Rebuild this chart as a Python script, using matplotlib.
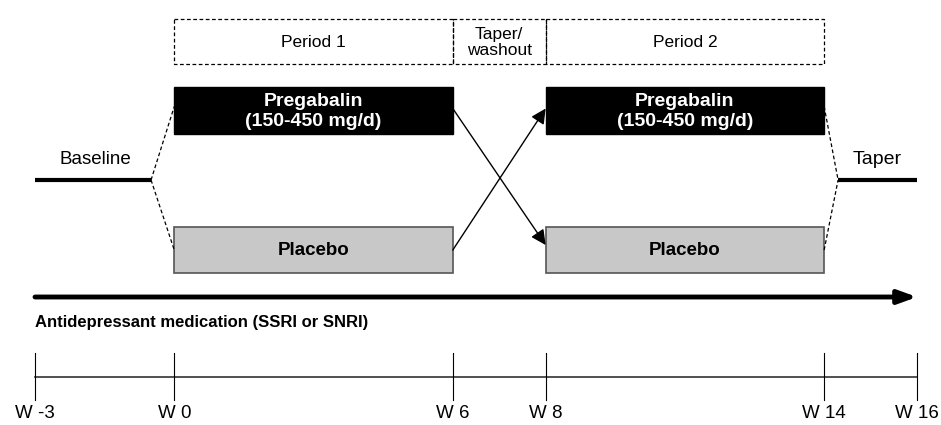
import matplotlib
matplotlib.use("Agg")
import matplotlib.pyplot as plt
from matplotlib.patches import Rectangle, FancyArrowPatch

plt.rcParams['font.family'] = ['Liberation Sans', 'DejaVu Sans']

# timeline (weeks)
week_ticks = [-3, 0, 6, 8, 14, 16]
week_labels = ['W -3', 'W 0', 'W 6', 'W 8', 'W 14', 'W 16']

# study periods
period_names = ['Period 1', 'Taper/\nwashout', 'Period 2']
period_start = [0, 6, 8]
period_end = [6, 8, 14]

# treatment blocks (start, end)
treat_blocks = [(0, 6), (8, 14)]
drug_label = 'Pregabalin\n(150-450 mg/d)'
placebo_label = 'Placebo'

baseline_end = -0.5
taper_start = 14.3

fig = plt.figure(figsize=(9.41, 4.25), dpi=100)
ax = fig.add_axes([0, 0, 1, 1])
ppw = (917 - 35) / 19.0
ax.set_xlim(-3 - 35 / ppw, 16 + 24 / ppw)
ax.set_ylim(425, 0)
ax.axis('off')

# y positions in pixel rows
y_per = (19, 64)
y_drug = (87, 134)
y_plac = (227, 273)
y_base = 180
y_arrow = 297
y_line = 377

# dashed period boxes
for name, s, e in zip(period_names, period_start, period_end):
    ax.add_patch(Rectangle((s, y_per[0]), e - s, y_per[1] - y_per[0], fill=False,
                           ls=(0, (3, 2)), lw=0.9, ec='black'))
    ax.text((s + e) / 2, (y_per[0] + y_per[1]) / 2 + 1, name, ha='center', va='center',
            fontsize=12.5, linespacing=1.1)

# treatment boxes
for s, e in treat_blocks:
    ax.add_patch(Rectangle((s, y_drug[0]), e - s, y_drug[1] - y_drug[0], fc='black', ec='black'))
    ax.text((s + e) / 2, (y_drug[0] + y_drug[1]) / 2 + 1, drug_label, ha='center', va='center',
            color='white', fontsize=14, fontweight='bold', linespacing=1.2)
    ax.add_patch(Rectangle((s, y_plac[0]), e - s, y_plac[1] - y_plac[0], fc='#c8c8c8',
                           ec='#555555', lw=1.2))
    ax.text((s + e) / 2, (y_plac[0] + y_plac[1]) / 2, placebo_label, ha='center', va='center',
            fontsize=13.5, fontweight='bold')

# baseline and taper
ax.plot([-3, baseline_end], [y_base, y_base], color='black', lw=3, solid_capstyle='butt')
ax.text((-3 + baseline_end) / 2 + 0.05, 160, 'Baseline', ha='center', va='center', fontsize=13.5)
ax.plot([taper_start, 16], [y_base, y_base], color='black', lw=3, solid_capstyle='butt')
ax.text((taper_start + 16) / 2, 160, 'Taper', ha='center', va='center', fontsize=14)

# dashed connectors
mid_d = (y_drug[0] + y_drug[1]) / 2
mid_p = (y_plac[0] + y_plac[1]) / 2
for y in (mid_d - 4, mid_p):
    ax.plot([baseline_end, 0], [y_base, y], color='black', lw=0.9, ls=(0, (3, 2)))
    ax.plot([14, taper_start], [y, y_base], color='black', lw=0.9, ls=(0, (3, 2)))

# crossover arrows
ax.add_patch(FancyArrowPatch((6, mid_d - 2), (8, mid_p - 5), arrowstyle='-|>,head_length=9,head_width=4.5',
                             color='black', lw=1.0, shrinkA=0, shrinkB=0))
ax.add_patch(FancyArrowPatch((6, mid_p), (8, mid_d - 2), arrowstyle='-|>,head_length=9,head_width=4.5',
                             color='black', lw=1.0, shrinkA=0, shrinkB=0))

# antidepressant arrow
ax.add_patch(FancyArrowPatch((-3, y_arrow), (16, y_arrow), arrowstyle='-|>,head_length=11,head_width=4',
                             color='black', lw=3.5, shrinkA=0, shrinkB=0))
ax.text(-3, 323, 'Antidepressant medication (SSRI or SNRI)', ha='left', va='center',
        fontsize=12, fontweight='bold')

# week timeline
ax.plot([-3, 16], [y_line, y_line], color='#333333', lw=1.2)
for w, lab in zip(week_ticks, week_labels):
    ax.plot([w, w], [353, 400], color='black', lw=0.8)
    ax.text(w, 413, lab, ha='center', va='center', fontsize=13.5)

fig.savefig('out.png', dpi=100)
